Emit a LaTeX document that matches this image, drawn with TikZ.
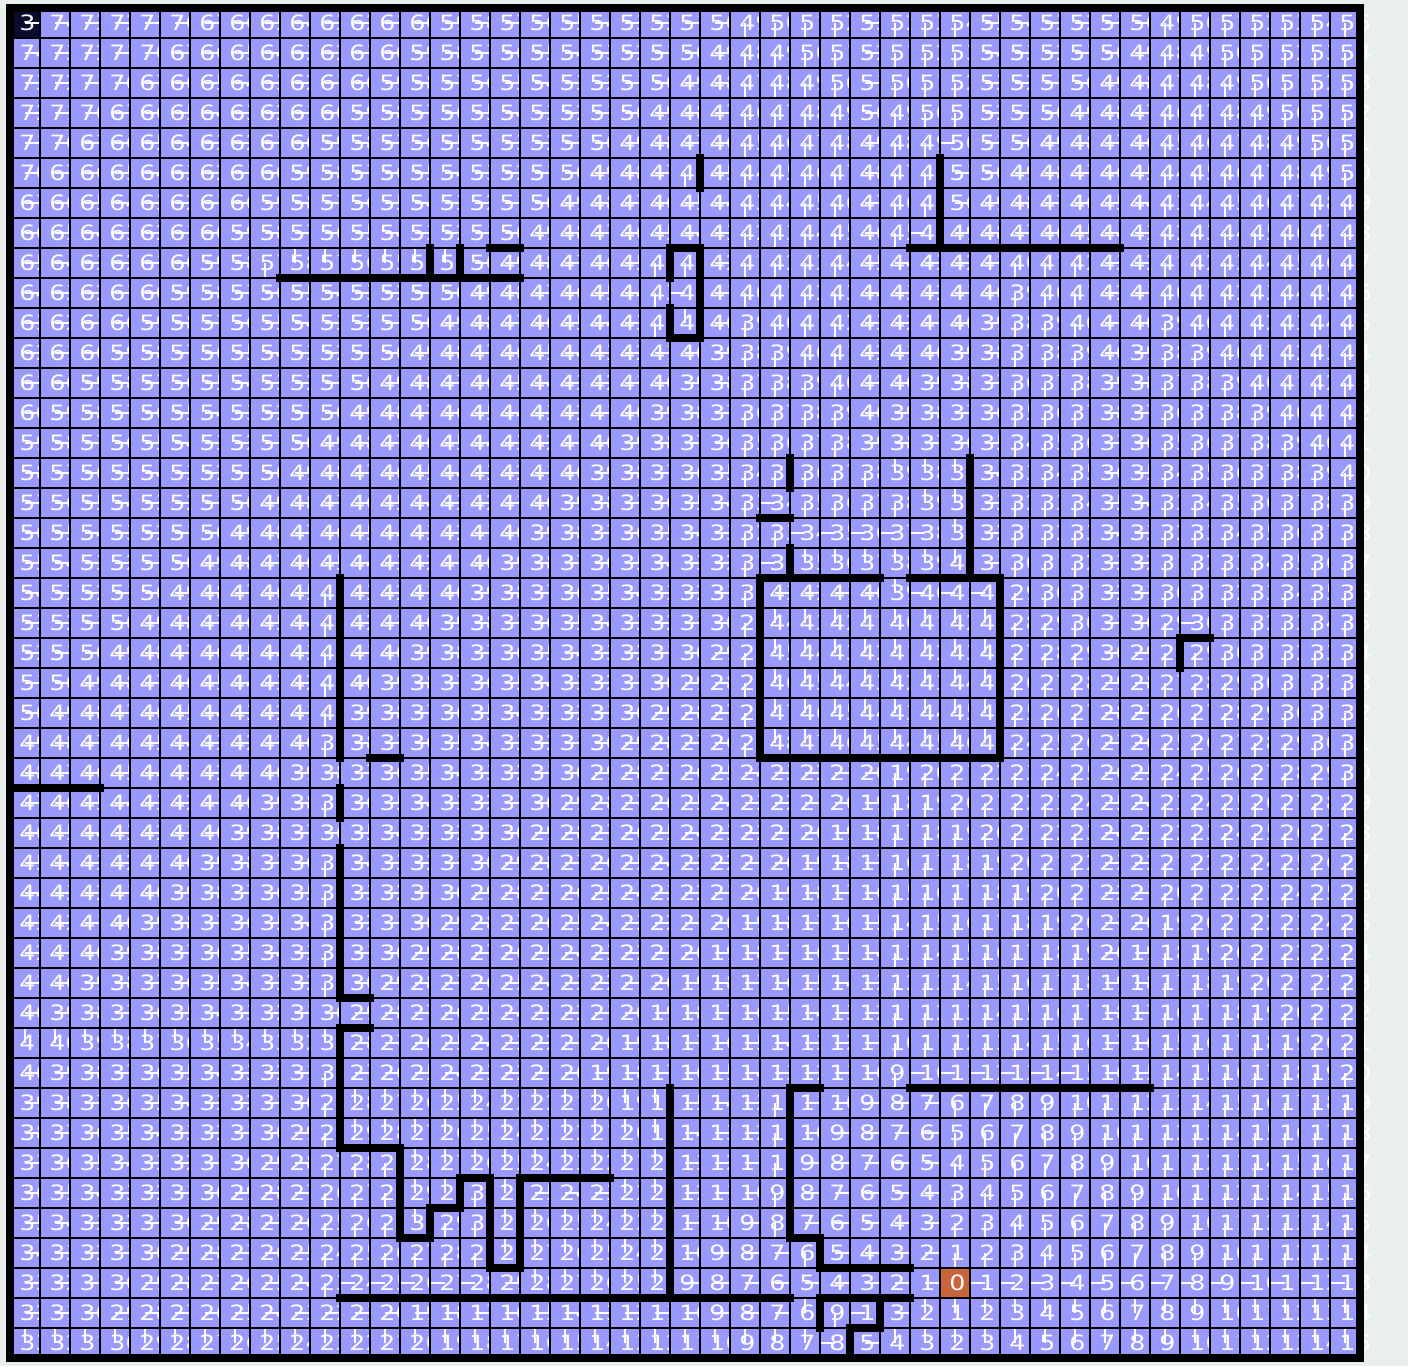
\documentclass[tikz,border=0pt]{standalone}
\usepackage{fontspec}
\setmainfont{DejaVu Sans}
\usepackage{tikz}
\definecolor{CELL}{HTML}{9999FF}
\definecolor{GOAL}{HTML}{C8653C}
\definecolor{START}{HTML}{0B0B2E}
\definecolor{PAPER}{HTML}{E9EFEC}

% walls: boundary / first / last
\newcommand\hwalls{8/16/16, 9/9/16, 8/22/22, 11/22/22, 8/30/36, 17/25/25,
  19/25/28, 19/30/32, 25/25/32, 21/39/39, 25/12/12, 33/11/11, 34/11/11,
  38/11/12, 41/13/13, 40/14/14, 39/15/15, 42/16/16, 39/17/19, 43/11/25,
  36/26/26, 41/26/26, 42/27/29, 43/27/29, 44/28/28, 36/30/37, 26/0/2}
\newcommand\vwalls{14/8/8, 15/8/8, 22/8/8, 22/10/10, 23/8/10, 23/5/5,
  31/5/7, 26/15/15, 26/18/18, 32/15/18, 25/19/24, 33/19/24, 39/21/21,
  11/19/24, 11/26/26, 11/28/32, 11/34/37, 13/38/40, 14/40/40, 15/39/39,
  16/39/41, 17/39/41, 22/36/42, 26/36/40, 27/41/41, 27/43/43, 29/43/43,
  28/44/44}

\ExplSyntaxOn
\intarray_new:Nn \g_maze_dist_intarray {2025}
\intarray_new:Nn \g_maze_dir_intarray {2025}
\intarray_new:Nn \g_maze_hw_intarray {2025}
\intarray_new:Nn \g_maze_vw_intarray {2025}
\intarray_new:Nn \g_maze_queue_intarray {2025}
\int_new:N \l_maze_head_int
\int_new:N \l_maze_tail_int
\int_new:N \l_maze_cur_int
\int_new:N \l_maze_r_int
\int_new:N \l_maze_c_int
\int_new:N \l_maze_d_int
\cs_new_protected:Npn \maze_hwall:nnn #1#2#3
  {
    \int_step_inline:nnn {#2} {#3}
      { \intarray_gset:Nnn \g_maze_hw_intarray { (#1 - 1) * 45 + ##1 + 1 } {1} }
  }
\cs_new_protected:Npn \maze_vwall:nnn #1#2#3
  {
    \int_step_inline:nnn {#2} {#3}
      { \intarray_gset:Nnn \g_maze_vw_intarray { ##1 * 45 + #1 } {1} }
  }
\cs_new_protected:Npn \maze_visit:nn #1#2
  {
    \int_compare:nNnT { \intarray_item:Nn \g_maze_dist_intarray {#1} } = {0}
      {
        \intarray_gset:Nnn \g_maze_dist_intarray {#1} { \l_maze_d_int + 1 }
        \intarray_gset:Nnn \g_maze_dir_intarray {#1} {#2}
        \intarray_gset:Nnn \g_maze_queue_intarray {\l_maze_tail_int} {#1}
        \int_incr:N \l_maze_tail_int
      }
  }
\cs_new_protected:Npn \maze_bfs:nn #1#2
  {
    \int_set:Nn \l_maze_cur_int { #1 * 45 + #2 + 1 }
    \intarray_gset:Nnn \g_maze_dist_intarray {\l_maze_cur_int} {1}
    \intarray_gset:Nnn \g_maze_queue_intarray {1} {\l_maze_cur_int}
    \int_set:Nn \l_maze_head_int {1}
    \int_set:Nn \l_maze_tail_int {2}
    \int_while_do:nNnn {\l_maze_head_int} < {\l_maze_tail_int}
      {
        \int_set:Nn \l_maze_cur_int
          { \intarray_item:Nn \g_maze_queue_intarray {\l_maze_head_int} }
        \int_incr:N \l_maze_head_int
        \int_set:Nn \l_maze_r_int { \int_div_truncate:nn { \l_maze_cur_int - 1 } {45} }
        \int_set:Nn \l_maze_c_int { \int_mod:nn { \l_maze_cur_int - 1 } {45} }
        \int_set:Nn \l_maze_d_int
          { \intarray_item:Nn \g_maze_dist_intarray {\l_maze_cur_int} }
        % right
        \int_compare:nNnT {\l_maze_c_int} < {44}
          {
            \int_compare:nNnT
              { \intarray_item:Nn \g_maze_vw_intarray {\l_maze_cur_int} } = {0}
              { \maze_visit:nn { \l_maze_cur_int + 1 } {3} }
          }
        % up
        \int_compare:nNnT {\l_maze_r_int} > {0}
          {
            \int_compare:nNnT
              { \intarray_item:Nn \g_maze_hw_intarray { \l_maze_cur_int - 45 } } = {0}
              { \maze_visit:nn { \l_maze_cur_int - 45 } {4} }
          }
        % left
        \int_compare:nNnT {\l_maze_c_int} > {0}
          {
            \int_compare:nNnT
              { \intarray_item:Nn \g_maze_vw_intarray { \l_maze_cur_int - 1 } } = {0}
              { \maze_visit:nn { \l_maze_cur_int - 1 } {1} }
          }
        % down
        \int_compare:nNnT {\l_maze_r_int} < {44}
          {
            \int_compare:nNnT
              { \intarray_item:Nn \g_maze_hw_intarray {\l_maze_cur_int} } = {0}
              { \maze_visit:nn { \l_maze_cur_int + 45 } {2} }
          }
      }
  }
\cs_new_eq:NN \mazehwall \maze_hwall:nnn
\cs_new_eq:NN \mazevwall \maze_vwall:nnn
\cs_new_eq:NN \mazebfs \maze_bfs:nn
\cs_new:Npn \mazedist #1#2
  { \int_eval:n { \intarray_item:Nn \g_maze_dist_intarray { (#1) * 45 + (#2) + 1 } - 1 } }
\cs_new:Npn \mazedir #1#2
  { \intarray_item:Nn \g_maze_dir_intarray { (#1) * 45 + (#2) + 1 } }
\ExplSyntaxOff

\foreach \wb/\wa/\wz in \hwalls {\mazehwall{\wb}{\wa}{\wz}}
\foreach \wb/\wa/\wz in \vwalls {\mazevwall{\wb}{\wa}{\wz}}
\mazebfs{42}{31}

\newcommand\widenum[1]{\scalebox{1.2}[1]{#1}}

\begin{document}
\begin{tikzpicture}[x=5mm, y=5mm,
  flow/.style={draw=white, line width=1pt},
  num/.style={anchor=west, inner sep=0pt, text=white, font=\fontsize{10}{10}\selectfont},
  gridline/.style={draw=black, line width=1.3pt},
  wall/.style={draw=black, line width=3.8pt, line cap=rect},
  rim/.style={draw=black, line width=4.2pt},
]
\useasboundingbox (-0.333,0.267) rectangle (46.6,-45.267);
\fill[PAPER] (-0.333,0.267) rectangle (46.6,-45.267);

% cells, flow strokes and distances
\foreach \row in {0,...,44}{%
  \foreach \col in {0,...,44}{%
    \edef\dist{\mazedist{\row}{\col}}%
    \edef\dir{\mazedir{\row}{\col}}%
    \def\tint{CELL}%
    \ifnum\dist=0 \def\tint{GOAL}\fi
    % corner cells read one band higher
    \ifnum\numexpr\row+\col\relax<6 \edef\dist{\the\numexpr\dist+2\relax}\fi
    \ifnum\row=0 \ifnum\col=0 \def\tint{START}\def\dist{3}\fi\fi
    \fill[\tint] (\col,-\row) rectangle ++(1,-1);
    \ifcase\dir\or
      \draw[flow] (\col+.5,-\row-.5) -- ++(.5,0);\or
      \draw[flow] (\col+.5,-\row-.5) -- ++(0,.5);\or
      \draw[flow] (\col+.5,-\row-.5) -- ++(-.5,0);\or
      \draw[flow] (\col+.5,-\row-.5) -- ++(0,-.5);\fi
    \node[num] (v-\row-\col) at (\col+.3,-\row-.5) {\widenum{\dist}};
  }%
}

\draw[gridline, step=1] (0,-45) grid (45,0);

% walls
\foreach \wb/\wa/\wz in \hwalls {\draw[wall] (\wa,-\wb) -- (\wz+1,-\wb);}
\foreach \wb/\wa/\wz in \vwalls {\draw[wall] (\wb,-\wa) -- (\wb,-\wz-1);}

\draw[rim] (0,0) rectangle (45,-45);
\end{tikzpicture}
\end{document}
